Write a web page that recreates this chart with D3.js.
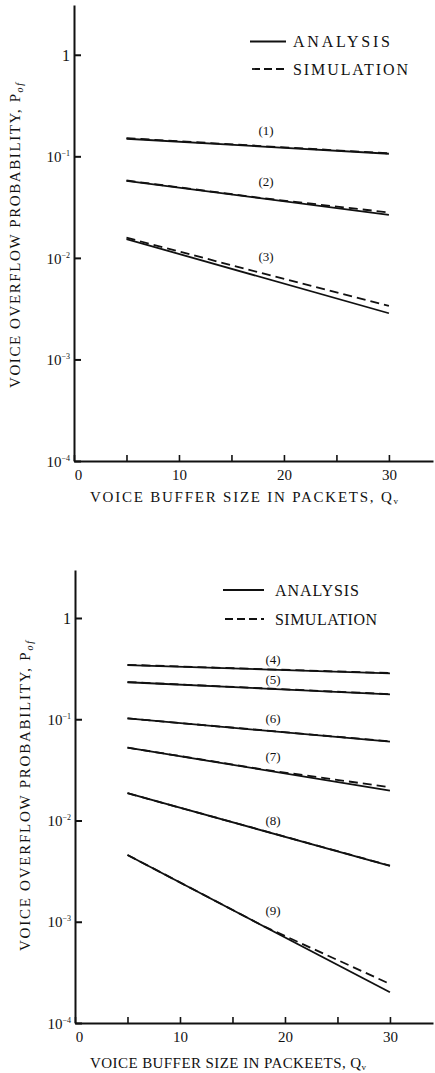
<!DOCTYPE html>
<html>
<head>
<meta charset="utf-8">
<script src="https://cdn.jsdelivr.net/npm/d3@7"></script>
<style>
  html, body { margin: 0; padding: 0; background: #fff; }
  svg { display: block; }
  text { font-family: "Liberation Serif", "DejaVu Serif", serif; fill: #111; }
</style>
</head>
<body>
<svg id="chart" width="435" height="1073"></svg>
<script>
// ---------- data ----------
const analysisSizes = [5, 30];
const simulationSizes = [5, 18, 30];
const xTickValues = [0, 5, 10, 15, 20, 25, 30];
const xTickLabels = ["0", "", "10", "", "20", "", "30"];
const yTickValues = [1, 1e-1, 1e-2, 1e-3, 1e-4];
const yTickExponents = ["", "−1", "−2", "−3", "−4"];
const legendLabels = ["ANALYSIS", "SIMULATION"];

// Upper panel
const curve1Analysis = [0.149, 0.106];
const curve1Simulation = [0.151, 0.126, 0.107];
const curve2Analysis = [0.0574, 0.0265];
const curve2Simulation = [0.0578, 0.0387, 0.0280];
const curve3Analysis = [0.0153, 0.00285];
const curve3Simulation = [0.0158, 0.00703, 0.00337];
const upperCurveLabels = ["(1)", "(2)", "(3)"];

// Lower panel
const curve4Analysis = [0.343, 0.284];
const curve4Simulation = [0.345, 0.312, 0.286];
const curve5Analysis = [0.232, 0.176];
const curve5Simulation = [0.233, 0.202, 0.177];
const curve6Analysis = [0.102, 0.0600];
const curve6Simulation = [0.102, 0.0776, 0.0605];
const curve7Analysis = [0.0525, 0.0197];
const curve7Simulation = [0.0525, 0.0318, 0.0213];
const curve8Analysis = [0.0186, 0.00356];
const curve8Simulation = [0.0186, 0.00790, 0.00358];
const curve9Analysis = [0.00457, 0.000201];
const curve9Simulation = [0.00457, 0.000900, 0.000243];
const lowerCurveLabels = ["(4)", "(5)", "(6)", "(7)", "(8)", "(9)"];

const upperXTitle = "VOICE BUFFER SIZE IN PACKETS, Q";
const lowerXTitle = "VOICE BUFFER SIZE IN PACKEETS, Q";
const yTitle = "VOICE OVERFLOW PROBABILITY, P";

// ---------- drawing ----------
const svg = d3.select("#chart");

function drawPanel(p) {
  const g = svg.append("g");
  const x = d3.scaleLinear().domain([0, p.xMax]).range([p.x0, p.xEnd]);
  const y = d3.scaleLog().domain([1e-4, p.yTopVal]).range([p.yBottom, p.yTop]);

  // y axis
  const yAxis = d3.axisLeft(y).tickValues(yTickValues).tickSizeInner(-7).tickSizeOuter(0).tickPadding(4).tickFormat(() => "");
  const ya = g.append("g").attr("transform", `translate(${p.x0},0)`).call(yAxis);
  ya.select(".domain").attr("stroke", "#111").attr("stroke-width", 2);
  ya.selectAll(".tick line").attr("stroke", "#111").attr("stroke-width", 2);
  ya.selectAll(".tick text").each(function(d, i) {
    const t = d3.select(this).attr("font-size", 15).attr("x", -4).attr("dy", "0.35em").attr("text-anchor", "end")
      .attr("font-family", "Liberation Serif").attr("fill", "#111");
    if (i === 0) {
      t.append("tspan").text("1").attr("font-size", 16);
    } else {
      t.append("tspan").text("10");
      t.append("tspan").text(yTickExponents[i]).attr("font-size", 8).attr("dy", -6);
    }
  });

  // x axis
  const xAxis = d3.axisBottom(x).tickValues(xTickValues).tickSizeInner(-6).tickSizeOuter(0).tickPadding(8)
    .tickFormat((d, i) => xTickLabels[i]);
  const xa = g.append("g").attr("transform", `translate(0,${p.yBottom})`).call(xAxis);
  xa.select(".domain").attr("stroke", "#111").attr("stroke-width", 2);
  xa.selectAll(".tick line").attr("stroke", "#111").attr("stroke-width", 1.6);
  xa.selectAll(".tick text").attr("font-size", 15).attr("font-family", "Liberation Serif").attr("fill", "#111")
    .attr("dx", (d) => d === 0 ? 4 : 0);

  // curves
  const aLine = d3.line().x((d, i) => x(analysisSizes[i])).y(d => y(d));
  const sLine = d3.line().x((d, i) => x(simulationSizes[i])).y(d => y(d));
  p.curves.forEach((c, k) => {
    g.append("path").attr("d", aLine(c.analysis)).attr("fill", "none").attr("stroke", "#111").attr("stroke-width", 1.8);
    g.append("path").attr("d", sLine(c.simulation)).attr("fill", "none").attr("stroke", "#111").attr("stroke-width", 1.8)
      .attr("stroke-dasharray", "9,5");
    g.append("text").attr("x", p.labelX).attr("y", p.labelY[k]).attr("dy", "0.35em").attr("text-anchor", "middle")
      .attr("font-size", 13).text(p.labels[k]);
  });

  // legend
  g.append("line").attr("x1", p.legX1).attr("x2", p.legX2).attr("y1", p.legY[0]).attr("y2", p.legY[0])
    .attr("stroke", "#111").attr("stroke-width", 1.8);
  g.append("line").attr("x1", p.legX1 + 2).attr("x2", p.legX2).attr("y1", p.legY[1]).attr("y2", p.legY[1])
    .attr("stroke", "#111").attr("stroke-width", 1.8).attr("stroke-dasharray", "8,4");
  legendLabels.forEach((l, i) => {
    g.append("text").attr("x", p.legTextX).attr("y", p.legY[i]).attr("dy", "0.35em").attr("font-size", 16)
      .attr("textLength", p.legLen[i]).attr("lengthAdjust", "spacing").text(l);
  });

  // x title
  const xt = g.append("text").attr("x", p.xTitleX).attr("y", p.xTitleY).attr("font-size", 15)
    .attr("textLength", p.xTitleLen).attr("lengthAdjust", "spacing");
  xt.append("tspan").text(p.xTitle);
  xt.append("tspan").text("v").attr("font-size", 9).attr("dy", 2);

  // y title
  const yt = g.append("text").attr("transform", `translate(${p.yTitleX},${p.yTitleStart}) rotate(-90)`)
    .attr("font-size", 15).attr("textLength", p.yTitleLen).attr("lengthAdjust", "spacing");
  yt.append("tspan").text(yTitle);
  yt.append("tspan").text("of").attr("font-size", 10).attr("dy", 3).attr("font-style", "italic");
}

drawPanel({
  x0: 74, xEnd: 433, xMax: 34.2,
  yBottom: 461, yTop: 5, yTopVal: Math.pow(10, 0.49),
  curves: [
    { analysis: curve1Analysis, simulation: curve1Simulation },
    { analysis: curve2Analysis, simulation: curve2Simulation },
    { analysis: curve3Analysis, simulation: curve3Simulation }
  ],
  labels: upperCurveLabels, labelX: 266, labelY: [130, 181, 256],
  legX1: 250, legX2: 286, legY: [41.5, 69], legTextX: 293, legLen: [97, 115],
  xTitle: upperXTitle, xTitleX: 90, xTitleY: 502, xTitleLen: 308,
  yTitleX: 20, yTitleStart: 388, yTitleLen: 305
});

drawPanel({
  x0: 75, xEnd: 433, xMax: 34.1,
  yBottom: 1023, yTop: 570, yTopVal: Math.pow(10, 0.474),
  curves: [
    { analysis: curve4Analysis, simulation: curve4Simulation },
    { analysis: curve5Analysis, simulation: curve5Simulation },
    { analysis: curve6Analysis, simulation: curve6Simulation },
    { analysis: curve7Analysis, simulation: curve7Simulation },
    { analysis: curve8Analysis, simulation: curve8Simulation },
    { analysis: curve9Analysis, simulation: curve9Simulation }
  ],
  labels: lowerCurveLabels, labelX: 273, labelY: [659, 679, 718, 756, 820, 910],
  legX1: 223, legX2: 264, legY: [590, 619], legTextX: 275, legLen: [84, 102],
  xTitle: lowerXTitle, xTitleX: 90, xTitleY: 1068, xTitleLen: 276,
  yTitleX: 30, yTitleStart: 951, yTitleLen: 310
});
</script>
</body>
</html>
